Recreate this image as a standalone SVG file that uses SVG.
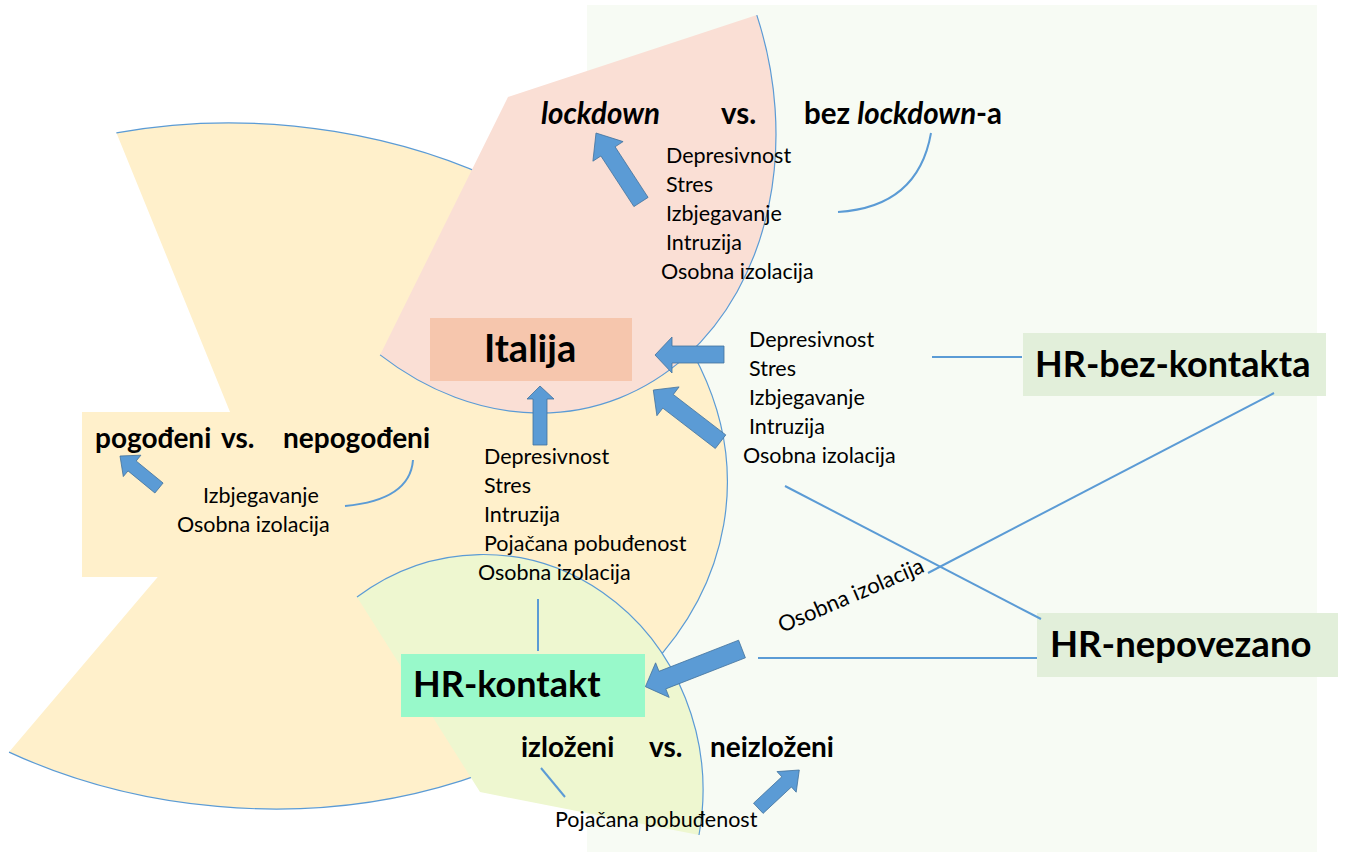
<svg xmlns="http://www.w3.org/2000/svg" width="1346" height="852" viewBox="0 0 1346 852">
<style>
.t{font-family:Lato,"Open Sans","Liberation Sans",sans-serif;font-size:21.5px;fill:#000}
.lab{font-family:Lato,"Open Sans","Liberation Sans",sans-serif;font-size:28px;font-weight:bold;fill:#000}
.big{font-family:Lato,"Open Sans","Liberation Sans",sans-serif;font-size:36px;font-weight:bold;fill:#000}
.arc{fill:none;stroke:#5B9BD5;stroke-width:1.2}
.ln{fill:none;stroke:#5B9BD5;stroke-width:2}
.arw{fill:#5B9BD5;stroke:#41719C;stroke-width:0.8}
</style>
<rect id="background" x="587" y="5" width="730" height="847" fill="#F7FBF4"/>
<g id="pogodjeni-region">
<g transform="translate(252,466) skewX(3.83)">
<path d="M0 0 L-113.3 -333.2 A475 343 0 1 1 -262.1 286.1 Z" fill="#FFF0CB"/>
<path class="arc" vector-effect="non-scaling-stroke" d="M-113.3 -333.2 A475 343 0 1 1 -262.1 286.1"/>
</g>
<rect x="82" y="412" width="230" height="165" fill="#FFF0CB"/>
</g>
<g id="italija-region">
<g transform="translate(508,97) skewX(5.71)">
<path d="M0 0 L-153.7 257.9 A266 316 0 0 0 257 -81.9 Z" fill="#FADFD5"/>
<path class="arc" vector-effect="non-scaling-stroke" d="M-153.7 257.9 A266 316 0 0 0 257 -81.9"/>
</g>
</g>
<g id="hr-kontakt-region">
<path d="M480 792 L357 597 A220 236 0 0 1 699 835 Z" fill="#EEF7D0"/>
<path class="arc" d="M357 597 A220 236 0 0 1 699 835"/>
</g>
<g id="italija">
<rect x="430" y="318" width="202" height="63" fill="#F6C6AD"/>
<text class="big" x="484" y="362" style="font-size:38px">Italija</text>
</g>
<g id="hr-kontakt">
<rect x="401" y="654" width="244" height="63" fill="#98F9CA"/>
<text class="big" x="413" y="697">HR-kontakt</text>
</g>
<g id="hr-bez-kontakta">
<rect x="1023" y="333" width="303" height="63" fill="#E2EFDA"/>
<text class="big" x="1035" y="377">HR-bez-kontakta</text>
</g>
<g id="hr-nepovezano">
<rect x="1037" y="613" width="301" height="64" fill="#E2EFDA"/>
<text class="big" x="1050" y="657" style="font-size:36.5px">HR-nepovezano</text>
</g>
<g id="connectors">
<path class="ln" d="M931 133 Q918 207 838 212"/>
<path class="ln" d="M413 460 Q410 500 345 506"/>
<path class="ln" d="M932 357 L1022 357"/>
<path class="ln" d="M1274 393 L928 573"/>
<path class="ln" d="M785 486 L1041 619"/>
<path class="ln" d="M758 658 L1037 658"/>
<path class="ln" d="M538 599 L538 651"/>
<path class="ln" d="M541 768 L565 797"/>
<polygon class="arw" points="648.1,197.4 615.1,146.8 623.1,141.6 596,133 592.9,161.2 600.9,156 633.9,206.6"/>
<polygon class="arw" points="163.1,483 136.2,461 140.9,455.2 120,456 123.3,476.6 128,470.9 154.9,493"/>
<polygon class="arw" points="533,445 533,399 527,399 540,386 554,399 547,399 547,445"/>
<polygon class="arw" points="724,346 672,346 672,337 655,355 672,373 672,363 724,363"/>
<polygon class="arw" points="725.8,434.9 673.3,394.5 679.1,386.9 653.3,390 656.9,415.7 662.8,408.1 715.3,448.5"/>
<polygon class="arw" points="738.6,640.2 659,671.3 655.6,662.8 645.4,686.7 669.2,697.4 665.8,688.9 745.4,657.8"/>
<polygon class="arw" points="763.1,813.4 791.4,787 796.2,792.2 799.3,770 777,771.6 781.8,776.8 753.5,803.2"/>
</g>
<g id="labels">
<text class="lab" x="541" y="124" font-style="italic" style="font-size:29.5px">lockdown</text>
<text class="lab" x="721" y="124" style="font-size:29.5px">vs.</text>
<text class="lab" x="804" y="124" style="font-size:29.5px">bez <tspan font-style="italic">lockdown</tspan>-a</text>
<text class="t" x="666" y="163">Depresivnost</text>
<text class="t" x="666" y="192">Stres</text>
<text class="t" x="666" y="221">Izbjegavanje</text>
<text class="t" x="666" y="250">Intruzija</text>
<text class="t" x="661" y="279">Osobna izolacija</text>
<text class="t" x="749" y="347">Depresivnost</text>
<text class="t" x="749" y="376">Stres</text>
<text class="t" x="749" y="405">Izbjegavanje</text>
<text class="t" x="749" y="434">Intruzija</text>
<text class="t" x="743" y="463">Osobna izolacija</text>
<text class="t" x="484" y="464">Depresivnost</text>
<text class="t" x="484" y="493">Stres</text>
<text class="t" x="484" y="522">Intruzija</text>
<text class="t" x="484" y="551">Pojačana pobuđenost</text>
<text class="t" x="478" y="580">Osobna izolacija</text>
<text class="lab" x="95" y="448">pogođeni</text>
<text class="lab" x="221" y="448">vs.</text>
<text class="lab" x="283" y="448">nepogođeni</text>
<text class="t" x="203" y="503">Izbjegavanje</text>
<text class="t" x="177" y="532">Osobna izolacija</text>
<text class="lab" x="521" y="757">izloženi</text>
<text class="lab" x="649" y="757">vs.</text>
<text class="lab" x="710" y="757">neizloženi</text>
<text class="t" x="555" y="827">Pojačana pobuđenost</text>
<text class="t" transform="translate(782,633) rotate(-23.2)" style="font-size:22px">Osobna izolacija</text>
</g>
</svg>
